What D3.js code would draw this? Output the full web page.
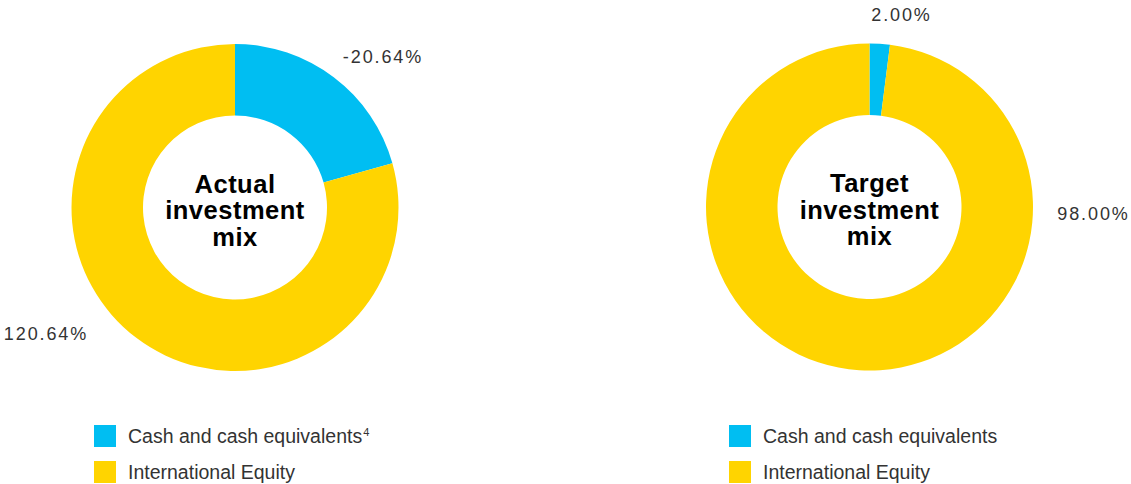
<!DOCTYPE html>
<html>
<head>
<meta charset="utf-8">
<script src="https://cdn.jsdelivr.net/npm/d3@7"></script>
<style>
  body { margin: 0; background: #fff; }
  svg { display: block; }
  .pct { font-family: "Liberation Sans", Arial, sans-serif; font-size: 18px; fill: #333; letter-spacing: 1.9px; }
  .mid { font-family: "Liberation Sans", Arial, sans-serif; font-size: 25.5px; font-weight: bold; fill: #000; letter-spacing: 0.5px; }
  .leg { font-family: "Liberation Sans", Arial, sans-serif; font-size: 19.5px; fill: #333; }
</style>
</head>
<body>
<div id="chart"></div>
<script>
var svgWidth = 1131;
var svgHeight = 484;

// data
var categories = ["Cash and cash equivalents", "International Equity"];
var actualValues = [-20.64, 120.64];
var targetValues = [2.00, 98.00];
var titles = [["Actual", "investment", "mix"], ["Target", "investment", "mix"]];
var footnotes = ["4", ""];

var colors = ["#00bef2", "#ffd400"];

var outerR = 163.5;
var innerR = 92;

var svg = d3.select("#chart")
    .append("svg")
    .attr("width", svgWidth)
    .attr("height", svgHeight);

// each donut: center, label offsets (text centre relative to donut centre), legend x
var layouts = [
    { cx: 235, cy: 207.5, labels: [[148, -151], [-189, 126]], legendX: 94 },
    { cx: 869.5, cy: 207, labels: [[32, -192], [224, 7]], legendX: 729 }
];

var arc = d3.arc().innerRadius(innerR).outerRadius(outerR);

function drawDonut(values, title, foot, lay) {
    // slice size comes from the cash share of the whole (100%), equity fills the rest
    var cash = Math.abs(values[0]);
    var pie = d3.pie().sort(null).value(d => d);
    var slices = pie([cash, 100 - cash]);

    var g = svg.append("g")
        .attr("transform", `translate(${lay.cx}, ${lay.cy})`);

    g.selectAll("path")
        .data(slices)
        .enter()
        .append("path")
        .attr("d", arc)
        .attr("fill", (d, i) => colors[i]);

    // percentage labels
    g.selectAll(".pct")
        .data(values)
        .enter()
        .append("text")
        .attr("class", "pct")
        .attr("x", (d, i) => lay.labels[i][0])
        .attr("y", (d, i) => lay.labels[i][1])
        .attr("dy", "0.35em")
        .attr("text-anchor", "middle")
        .text(d => d.toFixed(2) + "%");

    // title in the hole
    var t = g.append("text")
        .attr("class", "mid")
        .attr("text-anchor", "middle");
    title.forEach((line, i) => {
        t.append("tspan")
            .attr("x", 0)
            .attr("y", -15 + i * 26.5)
            .text(line);
    });

    // legend
    var leg = svg.append("g")
        .attr("transform", `translate(${lay.legendX}, 425)`);
    var rows = leg.selectAll("g")
        .data(categories)
        .enter()
        .append("g")
        .attr("transform", (d, i) => `translate(0, ${i * 36})`);
    rows.append("rect")
        .attr("width", 22)
        .attr("height", 22)
        .attr("fill", (d, i) => colors[i]);
    var lt = rows.append("text")
        .attr("class", "leg")
        .attr("x", 34)
        .attr("y", 18)
        .text(d => d);
    lt.filter((d, i) => i === 0 && foot)
        .append("tspan")
        .attr("font-size", "11px")
        .attr("dx", 1)
        .attr("dy", -7)
        .text(foot);
}

drawDonut(actualValues, titles[0], footnotes[0], layouts[0]);
drawDonut(targetValues, titles[1], footnotes[1], layouts[1]);
</script>
</body>
</html>
